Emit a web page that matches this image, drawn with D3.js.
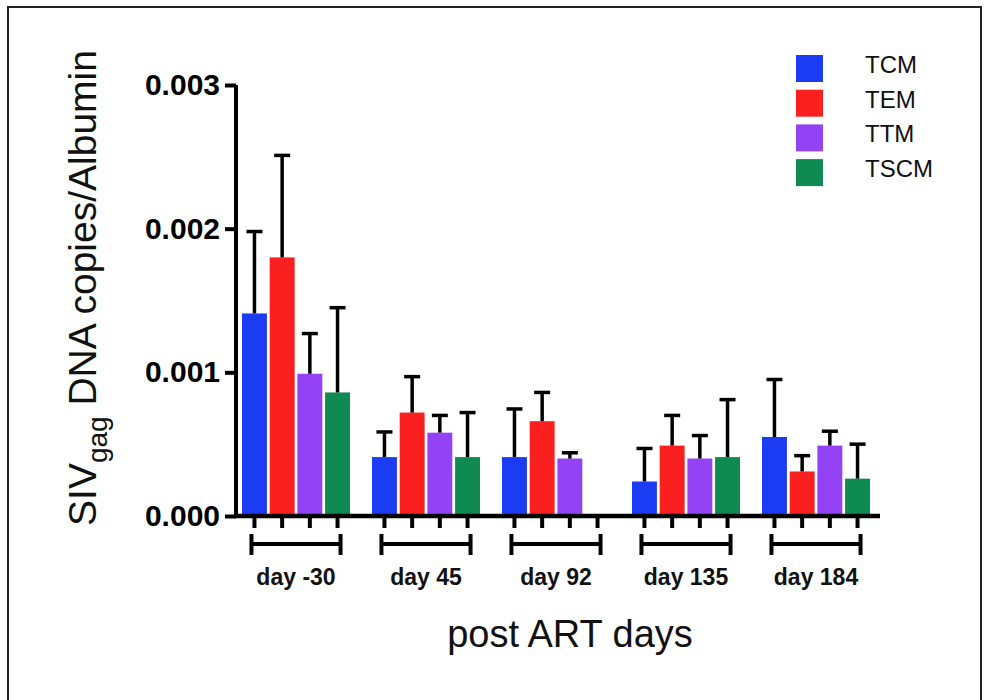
<!DOCTYPE html>
<html>
<head>
<meta charset="utf-8">
<script src="https://cdn.jsdelivr.net/npm/d3@7"></script>
<style>
  body { margin: 0; background: #fff; }
  svg { display: block; font-family: "Liberation Sans", Arial, sans-serif; }
</style>
</head>
<body>
<div id="mainDiv"></div>
<script>
const days = ["day -30", "day 45", "day 92", "day 135", "day 184"];
const series = ["TCM", "TEM", "TTM", "TSCM"];
const colors = ["#1c3cf4", "#fb2020", "#9443f4", "#0f8a52"];

// mean values (x 0.001), null = no bar
const tcmValues = [1.41, 0.41, 0.41, 0.24, 0.55];
const temValues = [1.80, 0.72, 0.66, 0.49, 0.31];
const ttmValues = [0.99, 0.58, 0.40, 0.40, 0.49];
const tscmValues = [0.86, 0.41, null, 0.41, 0.26];

// upper error (x 0.001)
const tcmErrors = [0.57, 0.175, 0.335, 0.23, 0.40];
const temErrors = [0.71, 0.25, 0.20, 0.21, 0.11];
const ttmErrors = [0.28, 0.12, 0.04, 0.16, 0.10];
const tscmErrors = [0.59, 0.31, null, 0.40, 0.24];

const yTicks = [0, 0.001, 0.002, 0.003];

const chartSize = {
  width: 988,
  height: 700,
  left: 231,
  right: 881,
  top: 85,
  bottom: 516,
};

const valuesBySeries = [tcmValues, temValues, ttmValues, tscmValues];
const errorsBySeries = [tcmErrors, temErrors, ttmErrors, tscmErrors];

let bars = [];
days.forEach((day, i) => {
  series.forEach((s, j) => {
    let v = valuesBySeries[j][i];
    let e = errorsBySeries[j][i];
    bars.push({
      day: day,
      series: s,
      color: colors[j],
      value: v == null ? null : v / 1000,
      error: e == null ? null : e / 1000,
    });
  });
});

const x0 = d3.scaleBand()
  .domain(days)
  .range([chartSize.left, chartSize.right])
  .padding(0);

const x1 = d3.scaleBand()
  .domain(series)
  .range([11, x0.bandwidth() - 11])
  .paddingInner(0.1)
  .paddingOuter(0);

const y = d3.scaleLinear()
  .domain([0, 0.003])
  .range([chartSize.bottom, chartSize.top]);

const barCenter = d => x0(d.day) + x1(d.series) + x1.bandwidth() / 2;

const svg = d3.select("#mainDiv")
  .append("svg")
  .attr("width", chartSize.width)
  .attr("height", chartSize.height);

// frame
svg.append("rect")
  .attr("x", 8)
  .attr("y", 7)
  .attr("width", 973)
  .attr("height", 720)
  .attr("fill", "none")
  .attr("stroke", "#222")
  .attr("stroke-width", 2);

// bars
svg.append("g")
  .selectAll("rect")
  .data(bars.filter(d => d.value != null))
  .join("rect")
  .attr("x", d => x0(d.day) + x1(d.series))
  .attr("y", d => y(d.value))
  .attr("width", x1.bandwidth())
  .attr("height", d => y(0) - y(d.value))
  .attr("fill", d => d.color);

// error bars
const errG = svg.append("g")
  .attr("stroke", "#000")
  .attr("stroke-width", 3.5);

const withErr = bars.filter(d => d.value != null && d.error != null);

errG.selectAll("line.stem")
  .data(withErr)
  .join("line")
  .attr("class", "stem")
  .attr("x1", barCenter)
  .attr("x2", barCenter)
  .attr("y1", d => y(d.value))
  .attr("y2", d => y(d.value + d.error));

errG.selectAll("line.cap")
  .data(withErr)
  .join("line")
  .attr("class", "cap")
  .attr("x1", d => barCenter(d) - 8)
  .attr("x2", d => barCenter(d) + 8)
  .attr("y1", d => y(d.value + d.error))
  .attr("y2", d => y(d.value + d.error));

// y axis
const yAxis = svg.append("g")
  .attr("transform", `translate(${chartSize.left + 5},0)`)
  .call(d3.axisLeft(y)
    .tickValues(yTicks)
    .tickFormat(d3.format(".3f"))
    .tickSize(11)
    .tickSizeOuter(0)
    .tickPadding(5));

yAxis.select(".domain")
  .attr("stroke-width", 4)
  .attr("d", `M0,${y(0.003)}V${y(0) + 2}`);
yAxis.selectAll(".tick line").attr("stroke-width", 4);
yAxis.selectAll(".tick text")
  .attr("font-size", 30)
  .attr("font-weight", "bold")
  .attr("font-family", "Liberation Sans, Arial, sans-serif")
  .attr("fill", "#000");

// x axis line
svg.append("line")
  .attr("x1", chartSize.left + 3)
  .attr("x2", chartSize.right - 1)
  .attr("y1", y(0))
  .attr("y2", y(0))
  .attr("stroke", "#000")
  .attr("stroke-width", 4.5);

// x ticks under each bar
svg.append("g")
  .selectAll("line")
  .data(bars)
  .join("line")
  .attr("x1", barCenter)
  .attr("x2", barCenter)
  .attr("y1", y(0))
  .attr("y2", y(0) + 12)
  .attr("stroke", "#000")
  .attr("stroke-width", 4);

// group brackets
const bracketY = y(0) + 28;
const brackets = svg.append("g")
  .attr("stroke", "#000")
  .attr("stroke-width", 4);

const bracketLeft = d => x0(d) + x1(series[0]) + x1.bandwidth() / 2 - 3;
const bracketRight = d => x0(d) + x1(series[series.length - 1]) + x1.bandwidth() / 2 + 3;

brackets.selectAll("line.h")
  .data(days)
  .join("line")
  .attr("class", "h")
  .attr("x1", bracketLeft)
  .attr("x2", bracketRight)
  .attr("y1", bracketY)
  .attr("y2", bracketY);

brackets.selectAll("line.l")
  .data(days)
  .join("line")
  .attr("class", "l")
  .attr("x1", bracketLeft)
  .attr("x2", bracketLeft)
  .attr("y1", bracketY - 10)
  .attr("y2", bracketY + 11);

brackets.selectAll("line.r")
  .data(days)
  .join("line")
  .attr("class", "r")
  .attr("x1", bracketRight)
  .attr("x2", bracketRight)
  .attr("y1", bracketY - 10)
  .attr("y2", bracketY + 11);

svg.append("g")
  .selectAll("text")
  .data(days)
  .join("text")
  .attr("x", d => (bracketLeft(d) + bracketRight(d)) / 2)
  .attr("y", 585)
  .attr("text-anchor", "middle")
  .attr("font-size", 23)
  .attr("font-weight", "bold")
  .attr("fill", "#111")
  .text(d => d);

// axis titles
svg.append("text")
  .attr("x", 570)
  .attr("y", 647)
  .attr("text-anchor", "middle")
  .attr("font-size", 38)
  .attr("fill", "#111")
  .text("post ART days");

const yTitle = svg.append("text")
  .attr("transform", "translate(96,288) rotate(-90)")
  .attr("text-anchor", "middle")
  .attr("font-size", 39)
  .attr("fill", "#111");
yTitle.append("tspan").text("SIV");
yTitle.append("tspan")
  .attr("font-size", 28)
  .attr("dy", 11)
  .text("gag");
yTitle.append("tspan")
  .attr("dy", -11)
  .text(" DNA copies/Albumin");

// legend
const legend = svg.append("g")
  .selectAll("g")
  .data(series)
  .join("g")
  .attr("transform", (d, i) => `translate(796,${55 + i * 34.7})`);

legend.append("rect")
  .attr("width", 27)
  .attr("height", 27)
  .attr("fill", (d, i) => colors[i]);

legend.append("text")
  .attr("x", 69)
  .attr("y", 18)
  .attr("font-size", 24)
  .attr("fill", "#111")
  .text(d => d);
</script>
</body>
</html>
